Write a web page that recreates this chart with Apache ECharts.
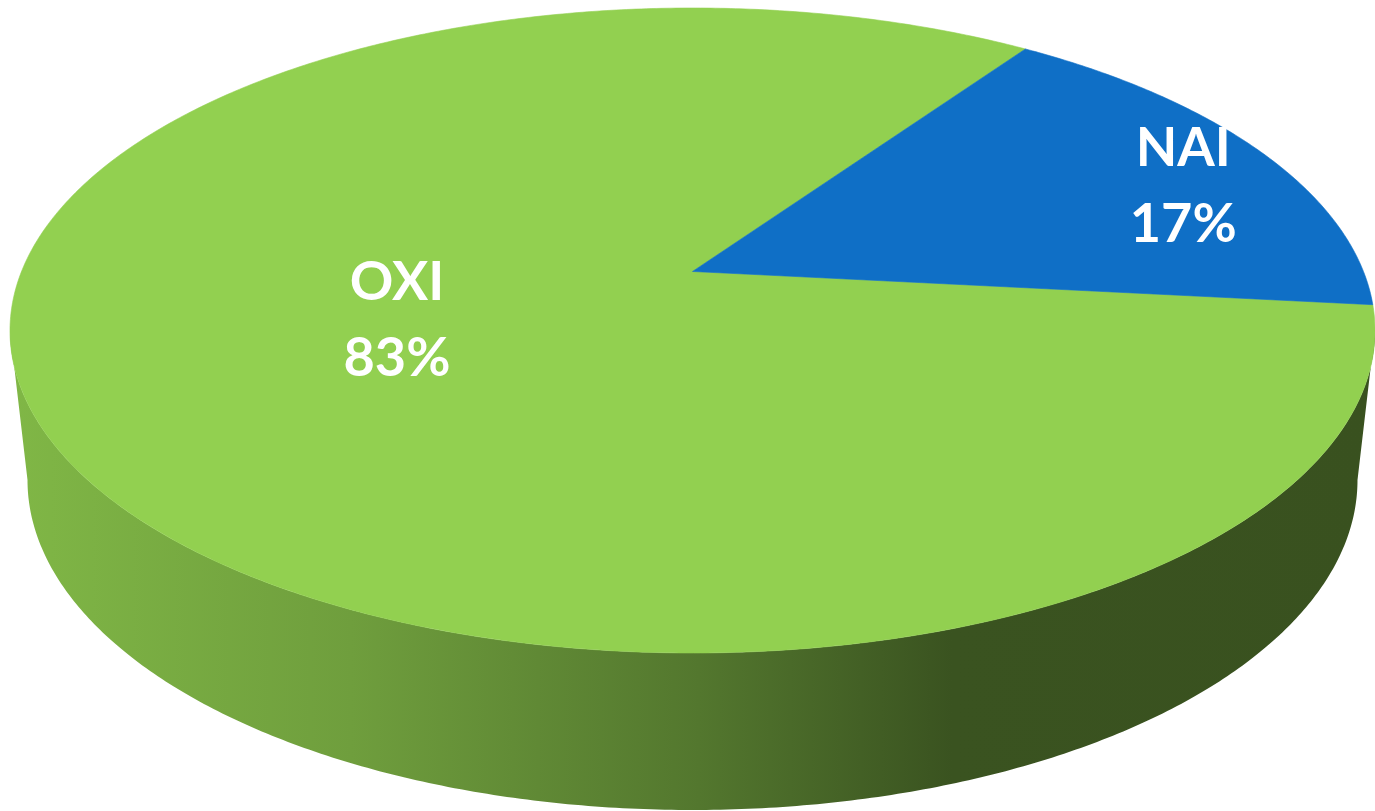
<!DOCTYPE html>
<html><head><meta charset="utf-8">
<script src="https://cdn.jsdelivr.net/npm/echarts@6/dist/echarts.min.js"></script>
<style>html,body{margin:0;padding:0;background:#fff;overflow:hidden}#c{width:1375px;height:811px}</style>
</head><body><div id="c"></div>
<script>
// ---- data ----
const categories = ['OXI', 'NAI'];
const values = [83, 17];
const sliceColors = ['#92D050', '#0F6FC6'];

// ---- layout (3D pie projection) ----
const START_DEG = 6;            // clockwise from 3 o'clock
const TOP = {cx: 692.5, cy: 330.5, rx: 682.5, ry: 322.5};
const BOT = {cx: 692.5, cy: 480, rx: 665, ry: 330};
const TILT = 0.183;              // perspective shift of the pie centre
const LABEL_POS = [[-0.433, -0.03], [0.719, -0.445]]; // normalised to top ellipse
const SHADE = [[0, 0.88], [0.25, 0.76], [0.505, 0.57], [0.69, 0.40], [1, 0.39]];

const total = values.reduce((a, b) => a + b, 0);
function sliceAngles(i) {
  let before = 0;
  for (let k = 0; k < i; k++) before += values[k];
  const s = START_DEG * Math.PI / 180;
  return [s + before / total * 2 * Math.PI, s + (before + values[i]) / total * 2 * Math.PI];
}
function proj(E, t, f) {
  if (f === undefined) f = 1;
  const u = f * Math.cos(t), v = f * Math.sin(t);
  const w = 1 - TILT * v;
  const vp = (v - TILT) / w;
  const up = u * Math.sqrt(1 - TILT * TILT) / w;
  return [E.cx + E.rx * up, E.cy + E.ry * vp];
}
function shade(hex, k) {
  const n = parseInt(hex.slice(1), 16);
  const r = Math.round(((n >> 16) & 255) * k), g = Math.round(((n >> 8) & 255) * k), b = Math.round((n & 255) * k);
  return 'rgb(' + r + ',' + g + ',' + b + ')';
}
function arcPts(E, a0, a1) {
  const pts = [];
  const n = Math.max(2, Math.ceil(Math.abs(a1 - a0) / (Math.PI / 360)));
  for (let k = 0; k <= n; k++) pts.push(proj(E, a0 + (a1 - a0) * k / n));
  return pts;
}

function renderSide(params, api) {
  const i = params.dataIndex;
  const [a0, a1] = sliceAngles(i);
  const lo = Math.asin(TILT), hi = Math.PI - Math.asin(TILT);
  const children = [];
  for (let m = -1; m <= 1; m++) {
    const L = lo + m * 2 * Math.PI, H = hi + m * 2 * Math.PI;
    const s = Math.max(a0, L), e = Math.min(a1, H);
    if (e > s) {
      const top = arcPts(TOP, s, e);
      const bot = arcPts(BOT, s, e).reverse();
      const grad = new echarts.graphic.LinearGradient(10, 0, 1375, 0,
        SHADE.map(p => ({offset: p[0], color: shade(sliceColors[i], p[1])})), true);
      children.push({type: 'polygon', shape: {points: top.concat(bot)},
        style: {fill: grad, stroke: null}});
    }
  }
  return {type: 'group', children: children};
}

function renderTop(params, api) {
  const i = params.dataIndex;
  const [a0, a1] = sliceAngles(i);
  const pts = [proj(TOP, 0, 0)].concat(arcPts(TOP, a0, a1));
  const pct = Math.round(api.value(0) / total * 100) + '%';
  const lp = LABEL_POS[i];
  return {type: 'group', children: [
    {type: 'polygon', shape: {points: pts},
      style: {fill: sliceColors[i], stroke: sliceColors[i], lineWidth: 0.6}},
    {type: 'text', z2: 20, x: TOP.cx + lp[0] * TOP.rx, y: TOP.cy + lp[1] * TOP.ry,
      style: {text: categories[i] + '\n' + pct, fill: '#ffffff', fontSize: 54,
        fontWeight: 'bold', fontFamily: 'Lato', align: 'center', verticalAlign: 'middle',
        lineHeight: 76}}
  ]};
}

const seriesData = categories.map((c, i) => ({name: c, value: values[i]}));
const chart = echarts.init(document.getElementById('c'), null, {renderer: 'canvas'});
chart.setOption({
  backgroundColor: '#ffffff',
  animation: false,
  series: [
    {type: 'custom', coordinateSystem: 'none', renderItem: renderSide, data: seriesData, z: 1, silent: true},
    {type: 'custom', coordinateSystem: 'none', renderItem: renderTop, data: seriesData, z: 2, silent: true}
  ]
});
</script>
</body></html>
